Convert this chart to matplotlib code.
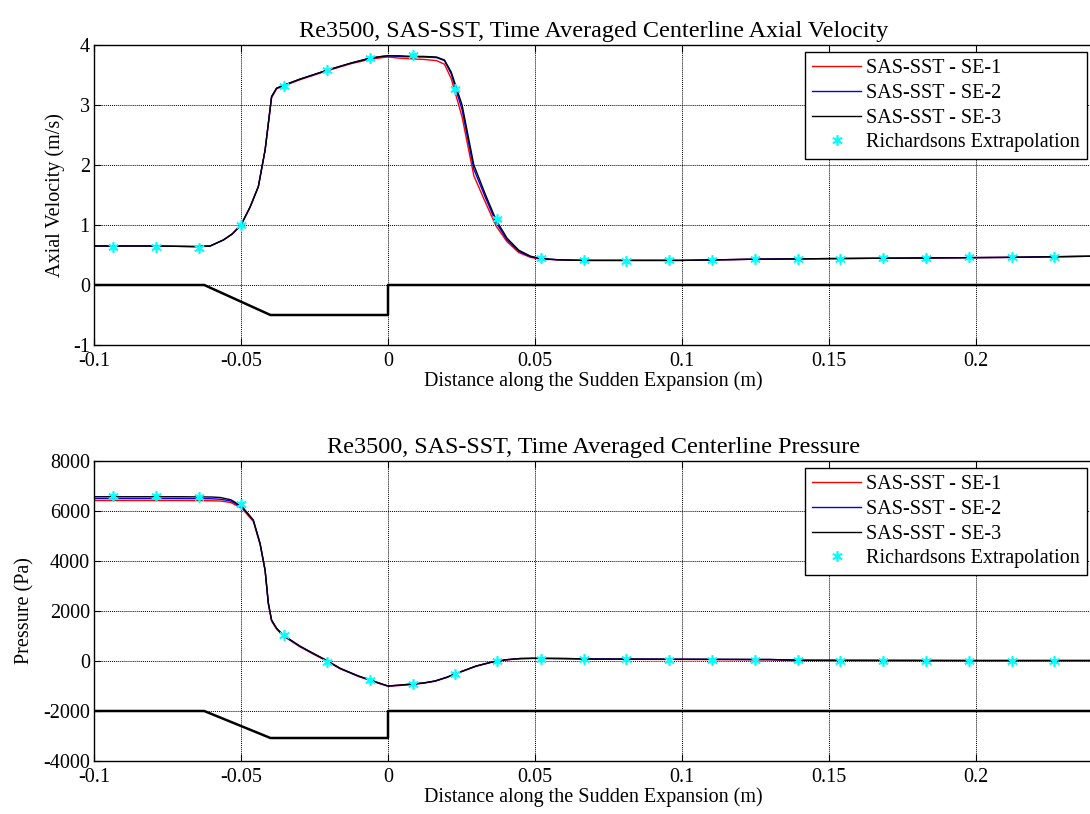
import matplotlib
matplotlib.use("Agg")
import matplotlib.pyplot as plt
import numpy as np

plt.rcParams['font.family'] = ['Liberation Serif', 'DejaVu Serif']
plt.rcParams['font.size'] = 14.5
plt.rcParams['axes.unicode_minus'] = False

# ---------------- Data: axial velocity ----------------
vel_x = [-0.1, -0.08, -0.065, -0.0605, -0.056, -0.053, -0.05, -0.0469, -0.0441, -0.0418,
         -0.0396, -0.0379, -0.0354, -0.03, -0.0207, -0.0125, -0.0062, -0.002, 0.0, 0.004,
         0.008, 0.012, 0.0165, 0.0192, 0.0215, 0.0252, 0.0292, 0.0332, 0.0368, 0.0405,
         0.0445, 0.0485, 0.052, 0.058, 0.066, 0.08, 0.1, 0.125, 0.15, 0.18, 0.21, 0.24]
vel_se3 = [0.65, 0.65, 0.64, 0.65, 0.75, 0.85, 1.0, 1.3, 1.64, 2.25,
           3.14, 3.28, 3.33, 3.43, 3.58, 3.70, 3.78, 3.81, 3.82, 3.82,
           3.81, 3.81, 3.80, 3.75, 3.55, 3.0, 2.0, 1.5, 1.08, 0.78,
           0.58, 0.48, 0.44, 0.42, 0.41, 0.41, 0.41, 0.43, 0.44, 0.45, 0.46, 0.48]
vel_se2 = [0.65, 0.65, 0.64, 0.65, 0.75, 0.85, 1.0, 1.3, 1.64, 2.25,
           3.14, 3.28, 3.33, 3.43, 3.58, 3.70, 3.78, 3.81, 3.82, 3.81,
           3.80, 3.80, 3.79, 3.74, 3.52, 2.92, 1.93, 1.45, 1.04, 0.75,
           0.56, 0.47, 0.44, 0.42, 0.41, 0.41, 0.41, 0.43, 0.44, 0.45, 0.46, 0.48]
vel_se1 = [0.65, 0.65, 0.64, 0.65, 0.75, 0.85, 1.0, 1.3, 1.64, 2.25,
           3.12, 3.27, 3.32, 3.42, 3.57, 3.69, 3.76, 3.79, 3.80, 3.78,
           3.77, 3.76, 3.74, 3.68, 3.44, 2.80, 1.82, 1.37, 0.98, 0.72,
           0.54, 0.46, 0.43, 0.42, 0.41, 0.41, 0.41, 0.43, 0.44, 0.45, 0.46, 0.48]

rich_x = [-0.0935, -0.0790, -0.0644, -0.0499, -0.0353, -0.0208, -0.0062, 0.0084,
          0.0229, 0.0372, 0.0520, 0.0666, 0.0811, 0.0957, 0.1102, 0.1248, 0.1393,
          0.1539, 0.1684, 0.1830, 0.1975, 0.2121, 0.2266]
rich_vel = [0.64, 0.64, 0.62, 1.0, 3.31, 3.58, 3.79, 3.83, 3.26, 1.10, 0.45, 0.41,
            0.40, 0.41, 0.42, 0.43, 0.44, 0.44, 0.45, 0.45, 0.46, 0.47, 0.47]

geo_x = [-0.1, -0.0625, -0.04, 0.0, 0.0, 0.24]
geo_vel = [0.0, 0.0, -0.5, -0.5, 0.0, 0.0]

# ---------------- Data: pressure ----------------
p_x = [-0.1, -0.07, -0.06, -0.057, -0.0535, -0.0498, -0.0458, -0.0435, -0.0418, -0.0407,
       -0.0396, -0.0379, -0.0357, -0.03, -0.025, -0.0208, -0.0163, -0.01, -0.006, -0.003,
       0.0, 0.004, 0.008, 0.012, 0.016, 0.02, 0.025, 0.03, 0.035, 0.04,
       0.045, 0.05, 0.06, 0.07, 0.1, 0.13, 0.14, 0.2, 0.24]
p_se3 = [6570, 6570, 6560, 6540, 6450, 6200, 5640, 4700, 3640, 2320,
         1640, 1310, 1040, 600, 280, 20, -290, -600, -760, -880,
         -1000, -960, -920, -880, -800, -650, -420, -200, -50, 50,
         100, 110, 100, 80, 70, 60, 30, 20, 20]
p_se2 = [6500, 6500, 6490, 6470, 6400, 6170, 5620, 4690, 3630, 2310,
         1630, 1300, 1030, 590, 270, 10, -300, -610, -770, -890,
         -1000, -970, -930, -880, -800, -650, -420, -200, -50, 50,
         100, 110, 100, 80, 70, 60, 30, 20, 20]
p_se1 = [6420, 6420, 6410, 6400, 6340, 6120, 5580, 4660, 3600, 2280,
         1600, 1280, 1010, 570, 250, 0, -310, -620, -780, -900,
         -1010, -980, -940, -890, -810, -660, -430, -210, -60, 40,
         90, 100, 90, 70, 60, 50, 20, 10, 10]
rich_p = [6600, 6600, 6580, 6270, 1040, -40, -760, -920, -520, 0, 100, 70,
          70, 60, 60, 50, 30, 20, 20, 20, 20, 20, 20]

geo_p = [-2000, -2000, -3080, -3080, -2000, -2000]

xticks = [-0.1, -0.05, 0, 0.05, 0.1, 0.15, 0.2]
xticklabels = ['-0.1', '-0.05', '0', '0.05', '0.1', '0.15', '0.2']
vel_yticks = [-1, 0, 1, 2, 3, 4]
p_yticks = [-4000, -2000, 0, 2000, 4000, 6000, 8000]

W, H = 1090, 814
fig = plt.figure(figsize=(W / 100, H / 100), dpi=100)

ax_w = 0.34 * 2940
ax1 = fig.add_axes([94 / W, 1 - 345 / H, ax_w / W, 300 / H])
ax2 = fig.add_axes([94 / W, 1 - 761 / H, ax_w / W, 300 / H])

star = (6, 2, 0)


def style(ax):
    ax.set_xlim(-0.1, 0.24)
    ax.set_xticks(xticks)
    ax.set_xticklabels(xticklabels)
    ax.grid(True, color='black', linestyle=(0, (1, 1)), linewidth=0.7)
    ax.tick_params(direction='in', top=True, right=False, length=5, width=0.8)
    ax.tick_params(axis='x', pad=5)
    ax.tick_params(axis='y', pad=3)
    ax.spines['right'].set_visible(False)
    for s in ['left', 'top', 'bottom']:
        ax.spines[s].set_linewidth(1.0)
    ax.set_xlabel('Distance along the Sudden Expansion (m)', labelpad=0.0)


# top panel
ax1.plot(vel_x, vel_se1, color='red', lw=1.0, label='SAS-SST - SE-1')
ax1.plot(vel_x, vel_se2, color='blue', lw=1.0, label='SAS-SST - SE-2')
ax1.plot(vel_x, vel_se3, color='black', lw=1.0, label='SAS-SST - SE-3')
ax1.plot(rich_x, rich_vel, linestyle='none', marker=star, color='cyan', ms=7.5, mew=1.2,
         label='Richardsons Extrapolation')
ax1.plot(geo_x, geo_vel, color='black', lw=1.8)
ax1.set_ylim(-1, 4)
ax1.set_yticks(vel_yticks)
ax1.set_ylabel('Axial Velocity (m/s)', labelpad=6)
ax1.set_title('Re3500, SAS-SST, Time Averaged Centerline Axial Velocity', pad=6)
style(ax1)

# bottom panel
ax2.plot(p_x, p_se1, color='red', lw=1.0, label='SAS-SST - SE-1')
ax2.plot(p_x, p_se2, color='blue', lw=1.0, label='SAS-SST - SE-2')
ax2.plot(p_x, p_se3, color='black', lw=1.0, label='SAS-SST - SE-3')
ax2.plot(rich_x, rich_p, linestyle='none', marker=star, color='cyan', ms=7.5, mew=1.2,
         label='Richardsons Extrapolation')
ax2.plot(geo_x, geo_p, color='black', lw=1.8)
ax2.set_ylim(-4000, 8000)
ax2.set_yticks(p_yticks)
ax2.set_ylabel('Pressure (Pa)', labelpad=6)
ax2.set_title('Re3500, SAS-SST, Time Averaged Centerline Pressure', pad=6)
style(ax2)

for ax in (ax1, ax2):
    leg = ax.legend(loc='upper right', fancybox=False, framealpha=1, edgecolor='black',
                    borderaxespad=0.35, handlelength=2.4, handletextpad=0.25,
                    labelspacing=0.28, borderpad=0.35, fontsize=14.5)
    leg.get_frame().set_linewidth(1.0)

fig.savefig('out.png', dpi=100)
